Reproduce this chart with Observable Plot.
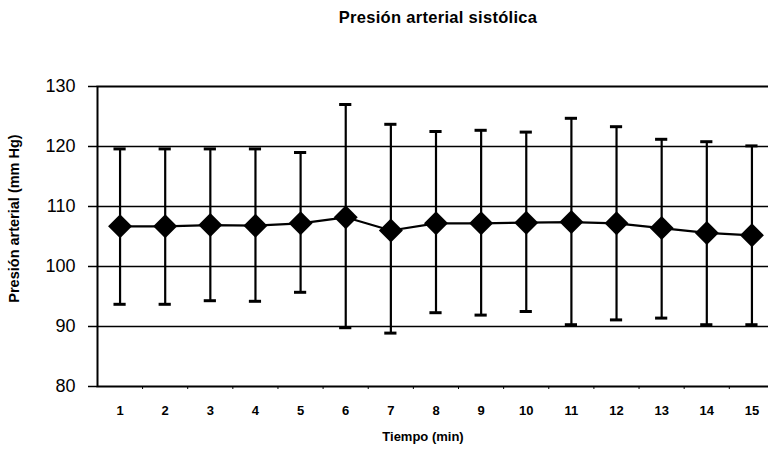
<!DOCTYPE html>
<html>
<head>
<meta charset="utf-8">
<script src="https://cdn.jsdelivr.net/npm/d3@7"></script>
<script src="https://cdn.jsdelivr.net/npm/@observablehq/plot@0.6"></script>
<style>
  html, body { margin: 0; padding: 0; background: #fff; overflow: hidden; }
  #title { font: bold 16.5px "Liberation Sans", Arial, sans-serif; letter-spacing: 0.3px; height: 34px; line-height: 34px; color: #000; text-align: center; padding-left: 108px; box-sizing: border-box; width: 768px; }
  svg { display: block; }
</style>
</head>
<body>
<div id="title">Presión arterial sistólica</div>
<div id="chart"></div>
<script>
const times = [1, 2, 3, 4, 5, 6, 7, 8, 9, 10, 11, 12, 13, 14, 15];
const means = [106.7, 106.7, 106.9, 106.8, 107.2, 108.2, 106.0, 107.2, 107.2, 107.3, 107.4, 107.2, 106.4, 105.6, 105.2];
const upper = [119.6, 119.6, 119.6, 119.6, 119.0, 127.0, 123.7, 122.5, 122.7, 122.4, 124.7, 123.3, 121.2, 120.8, 120.1];
const lower = [93.7, 93.7, 94.3, 94.2, 95.7, 89.8, 88.9, 92.3, 91.9, 92.5, 90.3, 91.1, 91.4, 90.3, 90.3];
const yTicks = [80, 90, 100, 110, 120, 130];
const gridValues = [90, 100, 110, 120];
const xLabel = "Tiempo (min)";
const yLabel = "Presión arterial (mm Hg)";

const data = times.map((t, i) => ({t, mean: means[i], hi: upper[i], lo: lower[i]}));

const chart = Plot.plot({
  width: 768,
  height: 417,
  marginLeft: 97,
  marginRight: 0,
  marginTop: 52,
  marginBottom: 65,
  style: {fontFamily: "'Liberation Sans', Arial, sans-serif", color: "#000", background: "#fff"},
  x: {type: "band", domain: times, range: [97, 774], paddingInner: 0.73, paddingOuter: 0.365, round: false},
  y: {domain: [80, 130]},
  marks: [
    Plot.gridY(gridValues, {stroke: "#000", strokeOpacity: 1, strokeWidth: 1.4}),
    Plot.frame({stroke: "#000", strokeWidth: 2, insetRight: -10}),
    Plot.axisY({ticks: yTicks, tickSize: 9, tickPadding: 13, fontSize: 18, strokeWidth: 1.5, label: null}),
    Plot.axisX({ticks: times.slice(0, -1), tickSize: 3, tickFormat: () => "", dx: 22.5, label: null}),
    Plot.axisX({ticks: times, tickSize: 0, tickPadding: 19, fontSize: 13, fontWeight: "bold", label: null}),
    Plot.text([xLabel], {frameAnchor: "bottom", textAnchor: "middle", lineAnchor: "middle", dx: -10, dy: 50, fontSize: 13, fontWeight: "bold"}),
    Plot.text([yLabel], {frameAnchor: "left", textAnchor: "middle", lineAnchor: "middle", rotate: -90, dx: -83, dy: -18, fontSize: 14.5, fontWeight: "bold"}),
    Plot.ruleX(data, {x: "t", y1: "lo", y2: "hi", stroke: "#000", strokeWidth: 2.2}),
    Plot.tickY(data, {x: "t", y: "hi", stroke: "#000", strokeWidth: 3}),
    Plot.tickY(data, {x: "t", y: "lo", stroke: "#000", strokeWidth: 3}),
    Plot.line(data, {x: "t", y: "mean", stroke: "#000", strokeWidth: 2.2}),
    Plot.dot(data, {x: "t", y: "mean", symbol: "diamond2", r: 10.8, fill: "#000", stroke: "none"})
  ]
});
document.getElementById("chart").appendChild(chart);
</script>
</body>
</html>
